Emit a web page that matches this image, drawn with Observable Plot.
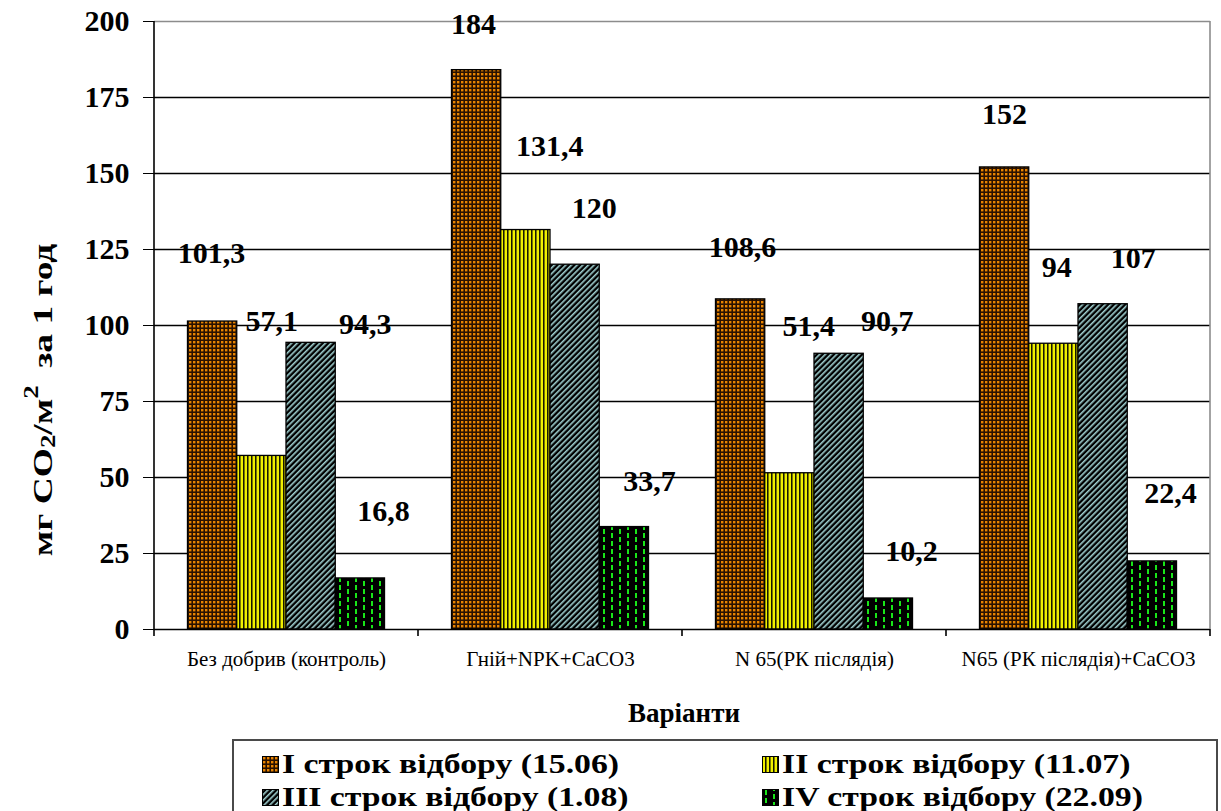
<!DOCTYPE html>
<html>
<head>
<meta charset="utf-8">
<script src="https://cdn.jsdelivr.net/npm/d3@7"></script>
<script src="https://cdn.jsdelivr.net/npm/@observablehq/plot@0.6"></script>
<style>
  body { margin: 0; background: #fff; }
  #wrap { position: relative; width: 1221px; height: 811px; overflow: hidden;
          font-family: "Liberation Serif", "Times New Roman", Times, serif; color: #000; }
  #chart { position: absolute; left: 0; top: 0; }
  #chart g[aria-label^="y-axis"] text { font-size: 30px; font-weight: bold; }
  #chart g[aria-label^="fx-axis"] text { font-size: 21px; font-weight: normal; }
  #ytitle { position: absolute; left: 43px; top: 400px; white-space: nowrap;
            transform: translate(-50%, -50%) rotate(-90deg) scaleX(1.34);
            font-size: 28px; font-weight: bold; line-height: 30px; }
  #ytitle sub { font-size: 20px; vertical-align: -3px; line-height: 0; }
  #ytitle sup { font-size: 20px; vertical-align: 14px; line-height: 0; padding-right: 6px; }
  #xtitle { position: absolute; left: 684px; top: 699px; transform: translateX(-50%);
            font-size: 27px; font-weight: bold; line-height: 28px; white-space: nowrap; }
  #legend { position: absolute; left: 232px; top: 739px; width: 986px; height: 100px;
            border: 2px solid #4a4a4a; box-sizing: border-box; background: #fff; }
  .item { position: absolute; display: flex; align-items: center; height: 28px;
          font-size: 27px; font-weight: bold; white-space: nowrap; line-height: 28px; }
  .item svg { margin-right: 3px; flex: none; }
  .item span { display: inline-block; transform: scaleX(1.25); transform-origin: left center; }
</style>
</head>
<body>
<svg width="0" height="0" style="position:absolute">
  <defs>
    <pattern id="fill-s1" patternUnits="userSpaceOnUse" width="4" height="4">
      <rect width="4" height="4" fill="#2a1200"/>
      <rect x="1" y="1" width="2.4" height="2.4" fill="#e88400"/>
    </pattern>
    <pattern id="fill-s2" patternUnits="userSpaceOnUse" width="4" height="4">
      <rect width="4" height="4" fill="#000"/>
      <rect x="0.5" y="0" width="2.6" height="4" fill="#f0f000"/>
    </pattern>
    <pattern id="fill-s3" patternUnits="userSpaceOnUse" width="4" height="4" patternTransform="rotate(45)">
      <rect width="4" height="4" fill="#000"/>
      <rect x="0" y="0" width="1.6" height="4" fill="#9fcfcf"/>
    </pattern>
    <pattern id="fill-s4" patternUnits="userSpaceOnUse" width="16" height="8">
      <rect width="16" height="8" fill="#000"/>
      <rect x="3" y="1" width="2" height="5" fill="#19e619"/>
      <rect x="11" y="5" width="2" height="3" fill="#19e619"/>
      <rect x="11" y="0" width="2" height="2" fill="#19e619"/>
    </pattern>
  </defs>
</svg>

<div id="wrap">
  <div id="chart"></div>
  <div id="ytitle">мг CO<sub>2</sub>/м<sup>2</sup> за 1 год</div>
  <div id="xtitle">Варіанти</div>
  <div id="legend"></div>
</div>

<script>
// Fertilisation variants (x groups)
const categories = [
  "Без добрив (контроль)",
  "Гній+NPK+CaCO3",
  "N 65(РК післядія)",
  "N65 (РК післядія)+CaCO3"
];

// Sampling dates (series)
const series = [
  "I строк відбору (15.06)",
  "II строк відбору (11.07)",
  "III строк відбору (1.08)",
  "IV строк відбору (22.09)"
];

// CO2 emission, mg CO2/m2 per hour, one value per variant
const samplingI   = [101.3, 184, 108.6, 152];
const samplingII  = [57.1, 131.4, 51.4, 94];
const samplingIII = [94.3, 120, 90.7, 107];
const samplingIV  = [16.8, 33.7, 10.2, 22.4];

const yTicks = [0, 25, 50, 75, 100, 125, 150, 175, 200];

// Label placement: pixel offset [dx, dy] of each value label from its bar's top centre
const labelOffsets = [
  [[-1, -68], [10, -135], [54, -18], [23, -67]],
  [[-3, -46], [24, -84],  [19, -56], [25, -46]],
  [[2, -52],  [19, -147], [48, -32], [23, -47]],
  [[0, -53],  [3, -76],   [30, -46], [18, -68]]
];

const serifStack = '"Liberation Serif", "Times New Roman", Times, serif';
const fills = series.map((s, i) => `url(#fill-s${i + 1})`);
const bySeries = [samplingI, samplingII, samplingIII, samplingIV];

const rows = [];
categories.forEach((c, ci) => {
  bySeries.forEach((vals, si) => {
    rows.push({category: c, series: series[si], value: vals[ci], ci, si});
  });
});

const fmt = v => String(v).replace(".", ",");

const labelMarks = rows.map(r => Plot.text([r], {
  fx: "category",
  x: "series",
  y: "value",
  text: d => fmt(d.value),
  dx: labelOffsets[r.ci][r.si][0],
  dy: labelOffsets[r.ci][r.si][1],
  fontSize: 30,
  fontWeight: "bold",
  fill: "#000"
}));

const chart = Plot.plot({
  width: 1221,
  height: 690,
  marginLeft: 154,
  marginRight: 11,
  marginTop: 21,
  marginBottom: 61,
  style: {fontFamily: serifStack, color: "#000", background: "transparent", overflow: "visible"},
  fx: {domain: categories, padding: 0, round: false, label: null, tickSize: 0, tickPadding: 22},
  x: {domain: series, paddingInner: 0, paddingOuter: 0.68, round: false, axis: null},
  y: {domain: [0, 200], ticks: yTicks, tickSize: 11, tickPadding: 14, label: null, tickFormat: d => String(d)},
  color: {domain: series, range: fills},
  marks: [
    Plot.ruleY(yTicks.filter(t => t > 0 && t < 200), {stroke: "#000", strokeWidth: 1.4}),
    Plot.ruleY([200], {stroke: "#8c8c8c", strokeWidth: 1.6}),
    Plot.barY(rows, {fx: "category", x: "series", y: "value", fill: "series", stroke: "#000", strokeWidth: 1.3}),
    Plot.ruleY([0], {stroke: "#000", strokeWidth: 1.6}),
    ...labelMarks
  ]
});

// Axis line on the left, frame line on the right and group separator ticks below the baseline
const fxs = chart.scale("fx");
const ys = chart.scale("y");
const svg = d3.select(chart);
const xStart = fxs.apply(categories[0]);
const xEnd = fxs.apply(categories[categories.length - 1]) + fxs.bandwidth;
const yTop = ys.apply(200), yBase = ys.apply(0);
svg.append("line")
  .attr("x1", xEnd).attr("x2", xEnd).attr("y1", yTop).attr("y2", yBase)
  .attr("stroke", "#8c8c8c").attr("stroke-width", 1.6);
svg.append("line")
  .attr("x1", xStart).attr("x2", xStart).attr("y1", yTop).attr("y2", yBase + 7)
  .attr("stroke", "#000").attr("stroke-width", 1.6);
svg.append("g").selectAll("line")
  .data(categories.slice(1).map(c => fxs.apply(c)).concat([xEnd]))
  .join("line")
  .attr("x1", d => d).attr("x2", d => d).attr("y1", yBase).attr("y2", yBase + 7)
  .attr("stroke", "#000").attr("stroke-width", 1.6);

document.getElementById("chart").appendChild(chart);

// Legend: two columns, two rows
const legend = document.getElementById("legend");
const legendPos = [[28, 9], [528, 9], [28, 42], [528, 42]];
series.forEach((s, i) => {
  const item = document.createElement("div");
  item.className = "item";
  item.style.left = legendPos[i][0] + "px";
  item.style.top = legendPos[i][1] + "px";
  item.innerHTML =
    `<svg width="17" height="17"><rect x="0.5" y="0.5" width="16" height="16" fill="${fills[i]}" stroke="#000"/></svg>` +
    `<span>${s}</span>`;
  legend.appendChild(item);
});
</script>
</body>
</html>
